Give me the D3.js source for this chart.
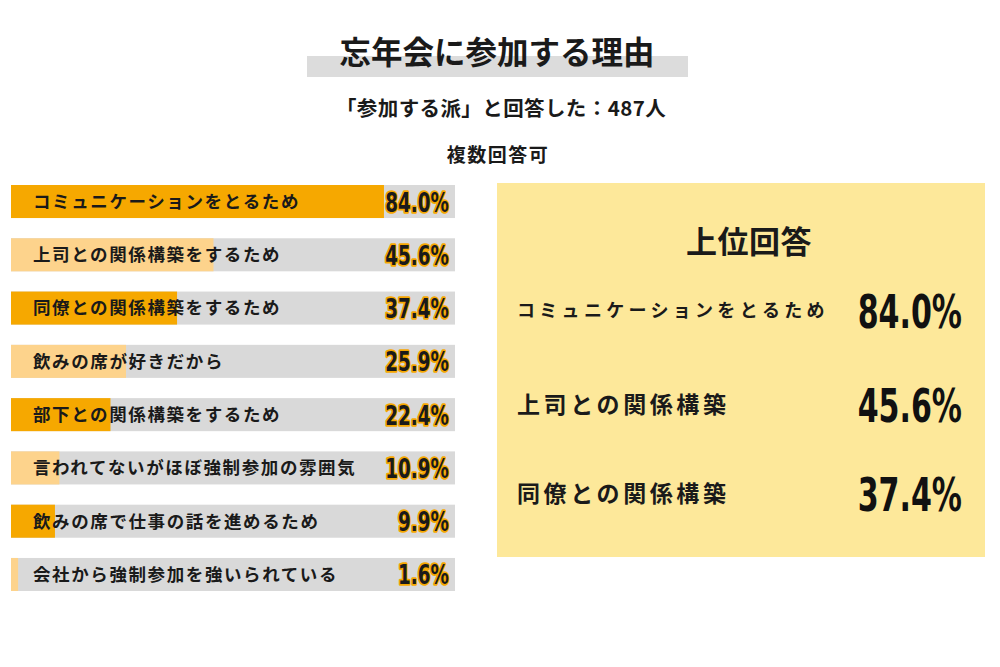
<!DOCTYPE html>
<html>
<head>
<meta charset="utf-8">
<script src="https://cdn.jsdelivr.net/npm/d3@7"></script>
<style>
  body { margin: 0; background: #fff; }
  svg { font-family: "Noto Sans CJK JP", "Noto Sans", sans-serif; }
  .pct { font-family: "DejaVu Sans", sans-serif; font-weight: bold; }
</style>
</head>
<body>
<svg id="chart" width="1000" height="667"></svg>
<script>
// chart data
const reasons = [
  "コミュニケーションをとるため",
  "上司との関係構築をするため",
  "同僚との関係構築をするため",
  "飲みの席が好きだから",
  "部下との関係構築をするため",
  "言われてないがほぼ強制参加の雰囲気",
  "飲みの席で仕事の話を進めるため",
  "会社から強制参加を強いられている"
];
const shares = [84.0, 45.6, 37.4, 25.9, 22.4, 10.9, 9.9, 1.6];

const topLabels = ["コミュニケーションをとるため", "上司との関係構築", "同僚との関係構築"];
const topShares = [84.0, 45.6, 37.4];

const svg = d3.select("#chart");

// title with grey band
svg.append("rect")
  .attr("x", 307).attr("y", 56)
  .attr("width", 381).attr("height", 21)
  .attr("fill", "#dcdcdc");

svg.append("text")
  .text("忘年会に参加する理由")
  .attr("x", 497).attr("y", 64)
  .attr("text-anchor", "middle")
  .attr("font-size", 31.5).attr("font-weight", "bold")
  .attr("fill", "#1a1a1a");

svg.append("text")
  .text("「参加する派」と回答した：487人")
  .attr("x", 501).attr("y", 116)
  .attr("text-anchor", "middle")
  .attr("font-size", 20.5).attr("font-weight", "bold")
  .attr("letter-spacing", 0.4)
  .attr("fill", "#1a1a1a");

svg.append("text")
  .text("複数回答可")
  .attr("x", 498).attr("y", 162)
  .attr("text-anchor", "middle")
  .attr("font-size", 19).attr("font-weight", "bold")
  .attr("letter-spacing", 1.5)
  .attr("fill", "#1a1a1a");

// bar chart
const x = d3.scaleLinear().domain([0, 100]).range([11, 455]);
const y = d3.scaleBand().domain(reasons).range([185, 591]).paddingInner(0.38).paddingOuter(0);

const rows = svg.append("g").selectAll("g")
  .data(reasons)
  .join("g");

rows.append("rect")
  .attr("x", x(0))
  .attr("y", d => y(d))
  .attr("width", x(100) - x(0))
  .attr("height", y.bandwidth())
  .attr("fill", "#d9d9d9");

rows.append("rect")
  .attr("x", x(0))
  .attr("y", d => y(d))
  .attr("width", (d, i) => x(shares[i]) - x(0))
  .attr("height", y.bandwidth())
  .attr("fill", (d, i) => i % 2 === 0 ? "#f6a800" : "#fdd38c");

rows.append("text")
  .text(d => d)
  .attr("x", 33)
  .attr("y", d => y(d) + y.bandwidth() / 2)
  .attr("dy", "0.36em")
  .attr("font-size", 17.5).attr("font-weight", "bold")
  .attr("letter-spacing", 1.6)
  .attr("fill", "#1a1a1a");

// condensed percent labels with orange outline
rows.append("text")
  .attr("class", "pct")
  .text((d, i) => shares[i].toFixed(1) + "%")
  .attr("transform", d => `translate(449,${y(d) + y.bandwidth() / 2}) scale(0.68,1)`)
  .attr("dy", "0.37em")
  .attr("text-anchor", "end")
  .attr("font-size", 27)
  .attr("fill", "#1a1a1a")
  .attr("stroke", "#f6a800")
  .attr("stroke-width", 3.5)
  .attr("stroke-linejoin", "round")
  .attr("paint-order", "stroke");

// top answers panel
svg.append("rect")
  .attr("x", 497).attr("y", 183)
  .attr("width", 488).attr("height", 374)
  .attr("fill", "#fde89a");

svg.append("text")
  .text("上位回答")
  .attr("x", 749).attr("y", 242)
  .attr("dy", "0.36em")
  .attr("text-anchor", "middle")
  .attr("font-size", 31).attr("font-weight", "bold")
  .attr("letter-spacing", 0.5)
  .attr("fill", "#1a1a1a");

const tyPos = [311, 405, 494];

const topRows = svg.append("g").selectAll("g")
  .data(topLabels)
  .join("g");

topRows.append("text")
  .text(d => d)
  .attr("x", 517)
  .attr("y", (d, i) => tyPos[i])
  .attr("dy", "0.36em")
  .attr("font-size", (d, i) => i === 0 ? 18 : 23)
  .attr("font-weight", "bold")
  .attr("letter-spacing", (d, i) => i === 0 ? 4.3 : 3.6)
  .attr("fill", "#1a1a1a");

topRows.append("text")
  .attr("class", "pct")
  .text((d, i) => topShares[i].toFixed(1) + "%")
  .attr("transform", (d, i) => `translate(962,${tyPos[i]}) scale(0.64,1)`)
  .attr("dy", "0.37em")
  .attr("text-anchor", "end")
  .attr("font-size", 47)
  .attr("fill", "#111");
</script>
</body>
</html>
